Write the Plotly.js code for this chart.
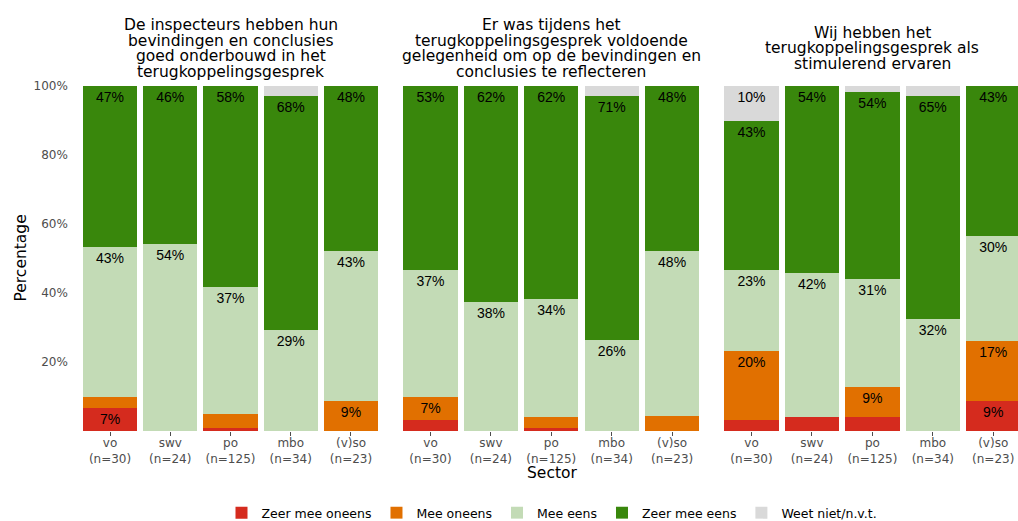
<!DOCTYPE html>
<html>
<head>
<meta charset="utf-8">
<script src="https://cdn.plot.ly/plotly-3.0.1.min.js"></script>
<style>html,body{margin:0;padding:0;background:#fff;}#chart{width:1018px;height:521px;}</style>
</head>
<body>
<div id="chart"></div>
<script>
// ---- Data ----
const sectors = ['vo', 'swv', 'po', 'mbo', '(v)so'];
const respondents = [30, 24, 125, 34, 23];
const responses = ['Zeer mee oneens', 'Mee oneens', 'Mee eens', 'Zeer mee eens', 'Weet niet/n.v.t.'];

const title1 = ['De inspecteurs hebben hun', 'bevindingen en conclusies', 'goed onderbouwd in het', 'terugkoppelingsgesprek'];
const title2 = ['Er was tijdens het', 'terugkoppelingsgesprek voldoende', 'gelegenheid om op de bevindingen en', 'conclusies te reflecteren'];
const title3 = ['Wij hebben het', 'terugkoppelingsgesprek als', 'stimulerend ervaren'];

// Question 1 (percentages per sector)
const q1ZeerMeeOneens = [6.67, 0, 0.8, 0, 0];
const q1MeeOneens     = [3.33, 0, 4.0, 0, 8.70];
const q1MeeEens       = [43.33, 54.17, 36.8, 29.41, 43.48];
const q1ZeerMeeEens   = [46.67, 45.83, 58.4, 67.65, 47.83];
const q1WeetNiet      = [0, 0, 0, 2.94, 0];

// Question 2
const q2ZeerMeeOneens = [3.33, 0, 0.8, 0, 0];
const q2MeeOneens     = [6.67, 0, 3.2, 0, 4.35];
const q2MeeEens       = [36.67, 37.5, 34.4, 26.47, 47.83];
const q2ZeerMeeEens   = [53.33, 62.5, 61.6, 70.59, 47.83];
const q2WeetNiet      = [0, 0, 0, 2.94, 0];

// Question 3
const q3ZeerMeeOneens = [3.33, 4.17, 4.0, 0, 8.70];
const q3MeeOneens     = [20.0, 0, 8.8, 0, 17.39];
const q3MeeEens       = [23.33, 41.67, 31.2, 32.35, 30.43];
const q3ZeerMeeEens   = [43.33, 54.17, 54.4, 64.71, 43.48];
const q3WeetNiet      = [10.0, 0, 1.6, 2.94, 0];

const yTickValues = [20, 40, 60, 80, 100];

// ---- Styles ----
const responseColors = ['#D52B1E', '#E17000', '#C3DBB6', '#39870C', '#D9D9D9'];
const FONT = 'DejaVu Sans, Verdana, sans-serif';
const LABEL_FONT = 'Liberation Sans, Arial, sans-serif';
const W = 1018, H = 521, MT = 86, MB = 90;
const plotH = H - MT - MB;
const pyToPaper = (py) => (H - MB - py) / plotH;

// R-style rounding (half to even)
function roundHalfEven(v) {
  const f = Math.floor(v);
  const d = v - f;
  if (Math.abs(d - 0.5) < 1e-9) return (f % 2 === 0) ? f : f + 1;
  return Math.round(v);
}

const panels = [
  { xa: 'x',  series: [q1ZeerMeeOneens, q1MeeOneens, q1MeeEens, q1ZeerMeeEens, q1WeetNiet], title: title1 },
  { xa: 'x2', series: [q2ZeerMeeOneens, q2MeeOneens, q2MeeEens, q2ZeerMeeEens, q2WeetNiet], title: title2 },
  { xa: 'x3', series: [q3ZeerMeeOneens, q3MeeOneens, q3MeeEens, q3ZeerMeeEens, q3WeetNiet], title: title3 }
];

const tickText = sectors.map((s, i) => s + '<br>(n=' + respondents[i] + ')');

const traces = [];
panels.forEach((p, pi) => {
  p.series.forEach((vals, ri) => {
    traces.push({
      type: 'bar',
      x: sectors,
      y: vals,
      xaxis: p.xa,
      yaxis: 'y',
      name: responses[ri],
      legendgroup: responses[ri],
      showlegend: pi === 0,
      marker: { color: responseColors[ri], line: { width: 0 } },
      text: vals.map(v => v >= 5 ? roundHalfEven(v) + '%' : ''),
      textposition: 'inside',
      insidetextanchor: 'end',
      textangle: 0,
      insidetextfont: { family: LABEL_FONT, size: 14, color: '#000000' },
      hovertemplate: '%{x}: %{y:.1f}%<extra>' + responses[ri] + '</extra>'
    });
  });
});

const xBase = {
  type: 'category',
  anchor: 'y',
  tickmode: 'array',
  tickvals: sectors,
  ticktext: tickText,
  ticks: 'outside',
  ticklen: 4,
  tickwidth: 1,
  tickcolor: '#4D4D4D',
  ticklabelstandoff: -3,
  tickfont: { family: FONT, size: 12, color: '#4D4D4D' },
  showgrid: false,
  showline: false,
  zeroline: false,
  automargin: false,
  fixedrange: true
};

const annotations = [];
panels.forEach((p) => {
  const n = p.title.length;
  p.title.forEach((line, li) => {
    const py = 48.5 + (li - (n - 1) / 2) * 15.6;
    annotations.push({
      text: line, xref: p.xa, yref: 'paper', x: 2, y: pyToPaper(py),
      xanchor: 'center', yanchor: 'middle', showarrow: false,
      font: { family: FONT, size: 15.5, color: '#000000' }
    });
  });
});
annotations.push({
  text: 'Percentage', xref: 'paper', yref: 'paper', x: 20 / W, y: 0.5,
  textangle: -90, xanchor: 'center', yanchor: 'middle', showarrow: false,
  font: { family: FONT, size: 15.5, color: '#000000' }
});
annotations.push({
  text: 'Sector', xref: 'paper', yref: 'paper', x: 552 / W, y: pyToPaper(473),
  xanchor: 'center', yanchor: 'middle', showarrow: false,
  font: { family: FONT, size: 15.5, color: '#000000' }
});

const layout = {
  width: W, height: H,
  margin: { l: 0, r: 0, t: MT, b: MB, pad: 0, autoexpand: false },
  paper_bgcolor: '#ffffff',
  plot_bgcolor: '#ffffff',
  barmode: 'stack',
  bargap: 0.1,
  font: { family: FONT, color: '#000000' },
  xaxis:  Object.assign({}, xBase, { domain: [79.9 / W, 381.1 / W], range: [-0.5, 4.5] }),
  xaxis2: Object.assign({}, xBase, { domain: [400.3 / W, 702.3 / W], range: [-0.5, 4.5] }),
  xaxis3: Object.assign({}, xBase, { domain: [721.3 / W, 1], range: [-0.5, 4.41] }),
  yaxis: {
    anchor: 'x',
    range: [0, 100],
    tickmode: 'array',
    tickvals: yTickValues,
    ticktext: yTickValues.map(v => v + '%'),
    ticks: '',
    ticklabelstandoff: 11,
    tickfont: { family: FONT, size: 12, color: '#4D4D4D' },
    showgrid: false,
    showline: false,
    zeroline: false,
    automargin: false,
    fixedrange: true
  },
  showlegend: true,
  legend: {
    orientation: 'h',
    xref: 'container', yref: 'container',
    x: 552 / W, xanchor: 'center',
    y: (H - 513) / H, yanchor: 'middle',
    traceorder: 'normal',
    font: { family: FONT, size: 12.5, color: '#000000' },
    bgcolor: 'rgba(0,0,0,0)'
  },
  annotations: annotations
};

Plotly.newPlot('chart', traces, layout, { displayModeBar: false, staticPlot: true });
</script>
</body>
</html>
